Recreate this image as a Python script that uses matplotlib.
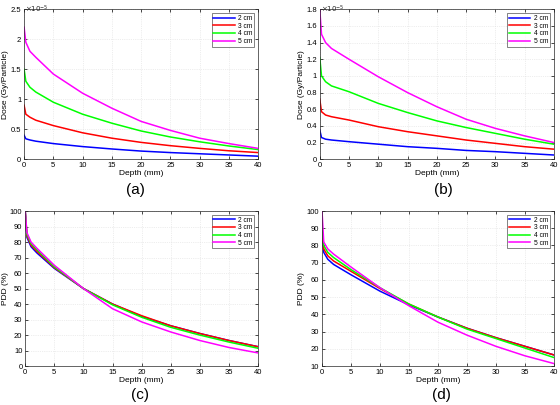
import numpy as np
import matplotlib
matplotlib.use("Agg")
import matplotlib.pyplot as plt

plt.rcParams['font.family'] = ['Liberation Sans', 'DejaVu Sans']

labels = ["2 cm", "3 cm", "4 cm", "5 cm"]
colors = ["#0000ff", "#ff0000", "#00ff00", "#ff00ff"]

depth = [0, 0.3, 1, 2, 5, 10, 15, 20, 25, 30, 35, 40]

# (a) dose, x1e-5 Gy/particle
dose_a_2 = [0.40, 0.34, 0.32, 0.30, 0.26, 0.21, 0.17, 0.135, 0.11, 0.09, 0.07, 0.05]
dose_a_3 = [0.90, 0.75, 0.70, 0.65, 0.56, 0.44, 0.35, 0.28, 0.225, 0.18, 0.14, 0.11]
dose_a_4 = [1.50, 1.30, 1.20, 1.12, 0.95, 0.75, 0.60, 0.47, 0.37, 0.29, 0.22, 0.16]
dose_a_5 = [2.20, 1.95, 1.80, 1.70, 1.42, 1.10, 0.85, 0.63, 0.48, 0.35, 0.26, 0.18]

# (b) dose, x1e-5 Gy/particle
dose_b_2 = [0.35, 0.26, 0.24, 0.23, 0.21, 0.18, 0.15, 0.13, 0.105, 0.09, 0.07, 0.05]
dose_b_3 = [0.72, 0.57, 0.53, 0.51, 0.47, 0.39, 0.33, 0.28, 0.23, 0.19, 0.15, 0.12]
dose_b_4 = [1.22, 1.00, 0.93, 0.88, 0.81, 0.67, 0.56, 0.46, 0.38, 0.31, 0.24, 0.18]
dose_b_5 = [1.80, 1.50, 1.40, 1.33, 1.20, 0.99, 0.80, 0.63, 0.48, 0.37, 0.28, 0.20]

# (c) PDD %
pdd_c_2 = [100, 83, 77, 73, 63, 50, 40, 32, 26, 21, 16.5, 12.5]
pdd_c_3 = [100, 84, 78, 74, 63.5, 50, 40, 32.5, 26, 21, 16.5, 12.5]
pdd_c_4 = [100, 85, 79, 75, 64, 50, 39.5, 31.5, 25, 20, 15.5, 11.5]
pdd_c_5 = [100, 86, 80, 76, 65, 50, 37, 28.5, 22, 16.5, 12, 8.5]

# (d) PDD %
pdd_d_2 = [88, 76, 72, 69, 63, 53.5, 45.5, 38.5, 32, 26.5, 21.5, 16.5]
pdd_d_3 = [88, 78, 74, 71, 65, 55, 46, 38.5, 32, 26.5, 21.5, 16.5]
pdd_d_4 = [90, 80, 76, 73, 66, 55.5, 46, 38.5, 31.5, 26, 20.5, 15]
pdd_d_5 = [100, 82, 78, 75, 67.5, 55.5, 45, 35.5, 28, 21.5, 16, 11.5]


def panel(ax, series, ylim, yticks, ylabel, sci=False):
    for s, c, l in zip(series, colors, labels):
        ax.plot(depth, s, color=c, lw=1.1, label=l)
    ax.set_xlim(0, 40)
    ax.set_xticks(range(0, 41, 5))
    ax.set_ylim(*ylim)
    ax.set_yticks(yticks)
    ax.set_yticklabels([f"{v:g}" for v in yticks])
    if sci:
        # exponent label as MATLAB puts it, at the top-left corner
        ax.text(0.005, 1.0, r"$\times10^{-5}$", transform=ax.transAxes,
                fontsize=5, ha="left", va="center", color="#262626")
    ax.grid(True, color="#dddddd", lw=0.5, ls=":")
    ax.tick_params(labelsize=5.5, length=2, width=0.5, direction="in",
                   top=True, right=True, pad=2)
    for sp in ax.spines.values():
        sp.set_linewidth(0.5)
        sp.set_color("#262626")
    ax.set_xlabel("Depth (mm)", fontsize=6, labelpad=1)
    ax.set_ylabel(ylabel, fontsize=6, labelpad=1)
    leg = ax.legend(loc="upper right", fontsize=4.8, fancybox=False,
                    handlelength=3.2, borderpad=0.25, labelspacing=0.1,
                    handletextpad=0.5, borderaxespad=0.6)
    leg.get_frame().set_edgecolor("#262626")
    leg.get_frame().set_linewidth(0.5)


fig = plt.figure(figsize=(5.6, 4.05), dpi=100)

ax_a = fig.add_axes([0.043, 0.607, 0.418, 0.37])
panel(ax_a, [dose_a_2, dose_a_3, dose_a_4, dose_a_5], (0, 2.5),
      [0, 0.5, 1, 1.5, 2, 2.5], "Dose (Gy/Particle)", sci=True)

ax_b = fig.add_axes([0.571, 0.607, 0.418, 0.37])
panel(ax_b, [dose_b_2, dose_b_3, dose_b_4, dose_b_5], (0, 1.8),
      [0, 0.2, 0.4, 0.6, 0.8, 1, 1.2, 1.4, 1.6, 1.8], "Dose (Gy/Particle)", sci=True)

ax_c = fig.add_axes([0.045, 0.096, 0.416, 0.383])
panel(ax_c, [pdd_c_2, pdd_c_3, pdd_c_4, pdd_c_5], (0, 100),
      list(range(0, 101, 10)), "PDD (%)")

ax_d = fig.add_axes([0.575, 0.096, 0.414, 0.383])
panel(ax_d, [pdd_d_2, pdd_d_3, pdd_d_4, pdd_d_5], (10, 100),
      list(range(10, 101, 10)), "PDD (%)")

for x, y, t in [(0.241, 0.531, "(a)"), (0.791, 0.531, "(b)"),
                (0.25, 0.024, "(c)"), (0.789, 0.024, "(d)")]:
    fig.text(x, y, t, fontsize=11, ha="center", va="center")

fig.savefig("out.png", dpi=100)
